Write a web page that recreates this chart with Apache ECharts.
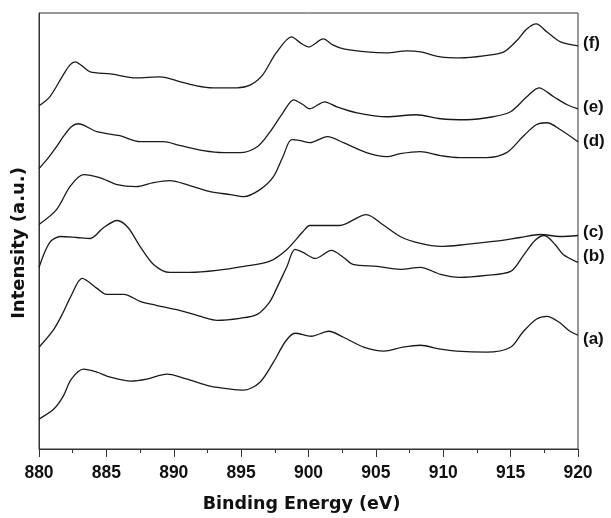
<!DOCTYPE html>
<html>
<head>
<meta charset="utf-8">
<script src="https://cdn.jsdelivr.net/npm/echarts@6/dist/echarts.min.js"></script>
<style>
  html, body { margin: 0; padding: 0; background: #fff; }
  #chart { width: 611px; height: 518px; }
</style>
</head>
<body>
<div id="chart"></div>
<script>
// Ce 3d XPS spectra, stacked with vertical offsets (arbitrary units).
// Each curve: [binding energy (eV), intensity (a.u.)]
const curveA = [
  [880.0, 30], [881.1, 40], [881.8, 53], [882.4, 70], [883.3, 80], [884.3, 77],
  [885.3, 72], [886.8, 68], [888.0, 70], [889.5, 75], [891.0, 70], [892.7, 63],
  [894.2, 60], [895.2, 59], [896.4, 67], [897.4, 87], [898.3, 108], [899.0, 116],
  [900.2, 113], [901.5, 118], [902.6, 112], [904.1, 102], [905.6, 98], [907.0, 102],
  [908.3, 104], [909.8, 100], [911.0, 98], [913.2, 97], [915.0, 102], [915.9, 117],
  [916.9, 130], [917.7, 133], [918.6, 127], [919.4, 118], [920.0, 114]
];
const curveB = [
  [880.0, 102], [881.1, 120], [881.8, 137], [882.4, 154], [883.2, 171], [884.3, 161],
  [885.0, 155], [886.3, 155], [887.5, 148], [888.7, 144], [890.7, 138], [892.2, 132],
  [893.2, 129], [894.9, 131], [896.2, 135], [897.1, 147], [897.6, 160], [898.4, 183],
  [899.0, 200], [899.6, 197], [900.5, 191], [901.7, 199], [902.6, 192], [903.3, 185],
  [905.1, 183], [906.8, 180], [908.3, 182], [909.8, 175], [911.2, 172], [913.2, 174],
  [915.0, 178], [915.9, 193], [916.8, 209], [917.5, 214], [918.3, 205], [918.9, 195],
  [920.0, 187]
];
const curveC = [
  [880.0, 182], [880.8, 207], [881.6, 213], [882.8, 212], [883.8, 211], [884.8, 222],
  [885.8, 229], [886.6, 222], [887.5, 203], [888.5, 185], [889.7, 177], [891.2, 177],
  [893.2, 179], [895.2, 183], [897.1, 188], [898.4, 200], [899.6, 218], [900.1, 224],
  [900.9, 224], [902.3, 224], [904.3, 235], [905.5, 225], [906.8, 213], [908.3, 206],
  [909.8, 203], [911.7, 205], [913.7, 208], [915.7, 212], [917.2, 215], [918.7, 213],
  [920.0, 214]
];
const curveD = [
  [880.0, 225], [881.3, 240], [882.3, 263], [883.3, 275], [884.5, 272], [885.8, 265],
  [887.2, 263], [888.5, 267], [889.7, 269], [891.2, 264], [892.7, 258], [894.2, 255],
  [895.2, 253], [896.4, 260], [897.4, 273], [898.1, 293], [898.75, 310], [899.4, 309],
  [900.1, 307], [901.4, 313], [902.6, 307], [904.3, 297], [905.8, 293], [906.8, 296],
  [908.3, 298], [909.8, 294], [911.2, 292], [913.2, 292], [914.7, 297], [915.9, 313],
  [916.9, 325], [917.7, 327], [918.7, 320], [920.0, 308]
];
const curveE = [
  [880.0, 281], [880.7, 292], [881.3, 303], [881.8, 313], [882.4, 323], [882.9, 326],
  [884.3, 318], [886.0, 314], [887.5, 308], [889.2, 308], [890.5, 304], [892.2, 299],
  [893.7, 297], [894.9, 297], [896.2, 303], [897.1, 317], [898.1, 337], [898.9, 350],
  [899.6, 345], [900.1, 341], [901.2, 348], [902.1, 343], [903.6, 337], [905.8, 333],
  [908.0, 335], [909.8, 331], [911.7, 330], [913.7, 333], [915.0, 338], [916.2, 353],
  [917.1, 362], [918.2, 353], [919.2, 345], [920.0, 341]
];
const curveF = [
  [880.0, 344], [880.8, 353], [881.8, 375], [882.3, 385], [882.7, 388], [883.2, 384],
  [883.8, 378], [885.3, 376], [887.2, 372], [889.0, 373], [890.5, 368], [891.7, 364],
  [892.9, 362], [894.7, 362], [895.7, 365], [896.6, 375], [897.6, 397], [898.75, 413],
  [899.4, 407], [900.0, 403], [901.1, 411], [901.8, 405], [902.6, 401], [904.3, 398],
  [905.8, 397], [907.3, 399], [908.3, 398], [909.8, 393], [911.2, 392], [913.0, 394],
  [914.5, 398], [915.5, 410], [916.2, 421], [916.9, 426], [917.7, 418], [918.7, 408],
  [920.0, 404]
];

const curveLabels = ['(a)', '(b)', '(c)', '(d)', '(e)', '(f)'];
const curves = [curveA, curveB, curveC, curveD, curveE, curveF];
// vertical nudge of each end label, px
const labelNudge = [4, -6, -3, 0, -1, -3];

const xTicks = { min: 880, max: 920, step: 5 };

const chart = echarts.init(document.getElementById('chart'), null, { renderer: 'canvas' });

const tickFont = 'Liberation Sans, Arial, Helvetica, sans-serif';
const titleFont = 'DejaVu Sans, Verdana, sans-serif';

chart.setOption({
  animation: false,
  backgroundColor: '#ffffff',
  grid: {
    left: 39, right: 33, top: 13, bottom: 68,
    show: true, borderColor: '#333', borderWidth: 1
  },
  // vertical axis title, placed beside the plot frame
  graphic: [{
    type: 'text',
    x: 19, y: 243,
    rotation: Math.PI / 2,
    style: {
      text: 'Intensity (a.u.)',
      fontFamily: titleFont, fontWeight: 'bold', fontSize: 18, fill: '#111',
      align: 'center', verticalAlign: 'middle'
    }
  }],
  xAxis: {
    type: 'value',
    min: xTicks.min, max: xTicks.max, interval: xTicks.step,
    name: 'Binding Energy (eV)',
    nameLocation: 'middle',
    nameGap: 46,
    nameTextStyle: {
      fontFamily: titleFont, fontWeight: 'bold', fontSize: 17.5, color: '#111',
      padding: [0, 14, 0, 0]
    },
    axisLine: { show: true, lineStyle: { color: '#333', width: 1 } },
    axisTick: { show: true, inside: false, length: 8, lineStyle: { color: '#333' } },
    minorTick: { show: true, splitNumber: 2, length: 4, lineStyle: { color: '#333' } },
    axisLabel: {
      fontFamily: tickFont, fontWeight: 'bold', fontSize: 17.5, color: '#111', margin: 15
    },
    splitLine: { show: false }
  },
  yAxis: {
    type: 'value',
    min: 0, max: 437,
    axisLine: { show: true, lineStyle: { color: '#333', width: 1 } },
    axisTick: { show: false },
    axisLabel: { show: false },
    splitLine: { show: false }
  },
  series: curves.map((data, i) => ({
    type: 'line',
    name: curveLabels[i],
    data: data,
    smooth: 0.3,
    showSymbol: false,
    symbol: 'none',
    lineStyle: { color: '#1a1a1a', width: 1.3 },
    endLabel: {
      show: true,
      formatter: curveLabels[i],
      distance: 5,
      offset: [0, labelNudge[i]],
      fontFamily: tickFont, fontWeight: 'bold', fontSize: 17, color: '#111'
    }
  }))
});
</script>
</body>
</html>
